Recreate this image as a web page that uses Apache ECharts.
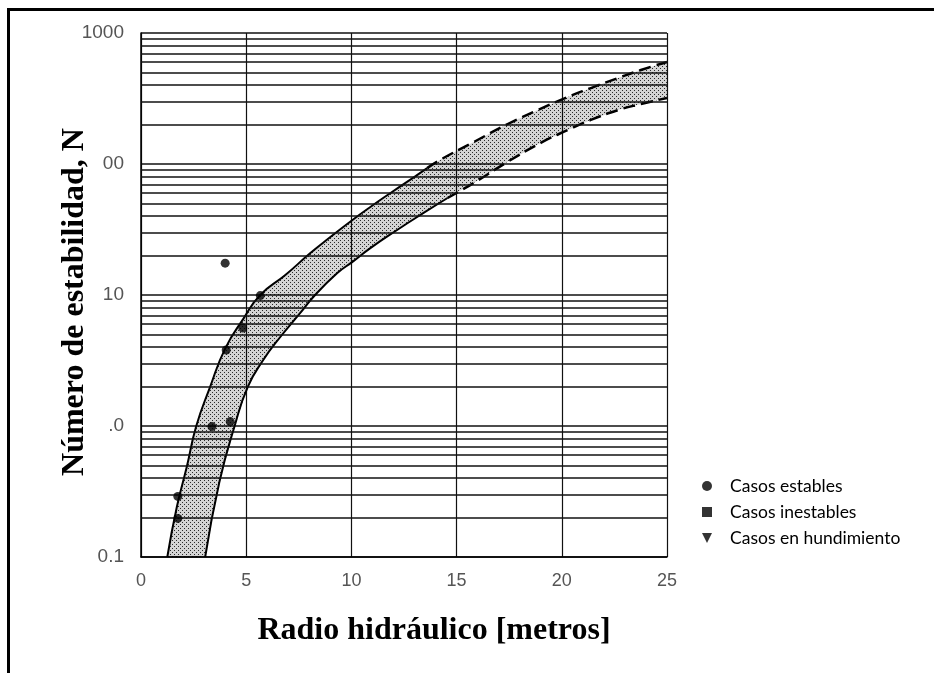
<!DOCTYPE html>
<html>
<head>
<meta charset="utf-8">
<script src="https://cdn.jsdelivr.net/npm/echarts@6/dist/echarts.min.js"></script>
<style>
html,body{margin:0;padding:0;background:#fff;}
#chart{width:934px;height:673px;}
</style>
</head>
<body>
<div id="chart"></div>
<script>
// ---- data ----
const xTickInterval = 5;
const yTickText = ['0.1', '.0', '10', '00', '1000'];   // visible tick texts (0.1,1,10,100,1000)
const minorGridValues = [0.2,0.3,0.4,0.5,0.6,0.7,0.8,0.9,
                         2,3,4,5,6,7,8,9,
                         20,30,40,50,60,70,80,90,
                         200,300,400,500,600,700,800,900];

// upper (left) boundary of the band: solid then dashed
const upperSolid = [[1.25,0.1],[1.70,0.24],[2.18,0.49],[2.62,0.99],[3.29,2.0],[4.0,3.9],
                    [4.87,6.6],[5.67,10.0],[6.86,14.2],[8.05,20.9],[9.0,27.7],[10.05,37.4],
                    [10.9,47.0],[11.86,60.1],[13.05,80.9],[13.6,93]];
const upperDashed = [[13.6,93],[14.24,108],[15.81,147],[17.43,202],[18.86,258],[20.1,316],
                     [21.38,380],[22.67,453],[23.76,522],[25.0,601]];
// lower (right) boundary of the band: solid then dashed
const lowerSolid = [[3.05,0.1],[3.72,0.37],[4.45,1.0],[5.08,2.0],[5.81,3.19],[6.62,4.78],
                    [7.57,7.29],[8.19,9.66],[9.33,14.7],[10.05,17.9],[10.9,22.8],[12.19,31.5],
                    [13.43,42.3],[14.57,55.0]];
const lowerDashed = [[14.57,55.0],[15.81,71.6],[17.43,104],[19.0,145],[20.29,182],[21.38,217],
                     [22.67,258],[23.76,287],[25.0,319]];

const casosEstables = [[4.0,17.5],[5.67,9.9],[4.84,5.6],[4.05,3.8],[3.37,0.99],[4.24,1.08],
                       [1.75,0.29],[1.75,0.197]];
const casosInestables = [];
const casosHundimiento = [];

const legendNames = ['Casos estables', 'Casos inestables', 'Casos en hundimiento'];

// ---- styling helpers ----
function makePattern() {
  const c = document.createElement('canvas');
  c.width = 4; c.height = 4;
  const g = c.getContext('2d');
  g.fillStyle = 'rgba(0,0,0,0.17)';
  g.fillRect(0, 0, 4, 4);
  g.fillStyle = 'rgba(0,0,0,0.8)';
  g.fillRect(0, 0, 1, 1);
  g.fillRect(2, 2, 1, 1);
  return c;
}
const pattern = makePattern();

const bandOutline = upperSolid.concat(upperDashed.slice(1))
  .concat(lowerSolid.concat(lowerDashed.slice(1)).slice().reverse());

const chart = echarts.init(document.getElementById('chart'), null, {renderer: 'canvas'});

const lineCommon = {
  type: 'line', smooth: 0.5, showSymbol: false, symbol: 'none', silent: true, z: 4
};

const option = {
  animation: false,
  backgroundColor: '#fff',
  graphic: [
    {type: 'line', shape: {x1: 7, y1: 9.5, x2: 934, y2: 9.5}, style: {stroke: '#000', lineWidth: 3}},
    {type: 'line', shape: {x1: 8.5, y1: 8, x2: 8.5, y2: 673}, style: {stroke: '#000', lineWidth: 3}}
  ],
  grid: {left: 141, right: 267, top: 33, bottom: 116},
  legend: {
    orient: 'vertical', left: 697, top: 472,
    itemWidth: 10, itemHeight: 10, itemGap: 8,
    textStyle: {fontFamily: 'Lato, "Open Sans", sans-serif', fontSize: 17.5, color: '#000', padding: [0, 0, 0, 13]},
    data: [
      {name: legendNames[0], icon: 'circle'},
      {name: legendNames[1], icon: 'rect'},
      {name: legendNames[2], icon: 'path://M0,0L10,0L5,10Z'}
    ]
  },
  xAxis: {
    type: 'value', min: 0, max: 25, interval: xTickInterval,
    axisLine: {show: true, lineStyle: {color: '#000', width: 1.5}},
    axisTick: {show: false},
    splitLine: {show: true, lineStyle: {color: '#111', width: 1.2}},
    axisLabel: {color: '#555', fontSize: 18, margin: 15, fontFamily: '"Liberation Sans", Arial, sans-serif'},
    name: 'Radio hidráulico [metros]', nameLocation: 'middle', nameGap: 58,
    nameTextStyle: {fontFamily: '"Liberation Serif", serif', fontWeight: 'bold', fontSize: 32, color: '#000', padding: [0, 0, 0, 60]}
  },
  yAxis: {
    type: 'log', logBase: 10, min: 0.1, max: 1000,
    axisLine: {show: true, lineStyle: {color: '#000', width: 1.5}},
    axisTick: {show: false},
    splitLine: {show: true, lineStyle: {color: '#111', width: 1.5}},
    axisLabel: {
      color: '#555', fontSize: 19, margin: 17, fontFamily: '"Liberation Sans", Arial, sans-serif',
      formatter: function (v) { return yTickText[Math.round(Math.log10(v)) + 1]; }
    },
    name: 'Número de estabilidad, N', nameLocation: 'middle', nameGap: 50, nameRotate: 90,
    nameMoveOverlap: false,
    nameTextStyle: {fontFamily: '"Liberation Serif", serif', fontWeight: 'bold', fontSize: 32, color: '#000', padding: [0, 14, 0, 0]}
  },
  series: [
    {
      type: 'custom', name: 'band', silent: true, z: 2, clip: true,
      data: [0],
      renderItem: function (params, api) {
        const pts = bandOutline.map(function (p) { return api.coord(p); });
        return {
          type: 'polygon',
          shape: {points: pts},
          style: {fill: {image: pattern, repeat: 'repeat'}, stroke: null}
        };
      }
    },
    Object.assign({}, lineCommon, {
      name: 'upperSolid', data: upperSolid,
      lineStyle: {color: '#000', width: 2, type: 'solid'},
      markLine: {
        silent: true, symbol: 'none', label: {show: false},
        lineStyle: {color: '#111', width: 1.5, type: 'solid'},
        data: minorGridValues.map(function (v) { return {yAxis: v}; })
      }
    }),
    Object.assign({}, lineCommon, {
      name: 'upperDashed', data: upperDashed,
      lineStyle: {color: '#000', width: 2.5, type: [12, 6]}
    }),
    Object.assign({}, lineCommon, {
      name: 'lowerSolid', data: lowerSolid,
      lineStyle: {color: '#000', width: 2, type: 'solid'}
    }),
    Object.assign({}, lineCommon, {
      name: 'lowerDashed', data: lowerDashed,
      lineStyle: {color: '#000', width: 2.5, type: [12, 6]}
    }),
    {
      type: 'scatter', name: legendNames[0], data: casosEstables, symbol: 'circle', symbolSize: 9,
      itemStyle: {color: '#000'}, z: 6
    },
    {
      type: 'scatter', name: legendNames[1], data: casosInestables, symbol: 'rect', symbolSize: 9,
      itemStyle: {color: '#000'}, z: 6
    },
    {
      type: 'scatter', name: legendNames[2], data: casosHundimiento, symbol: 'path://M0,0L10,0L5,10Z', symbolSize: 9,
      itemStyle: {color: '#000'}, z: 6
    }
  ]
};
chart.setOption(option);
</script>
</body>
</html>
